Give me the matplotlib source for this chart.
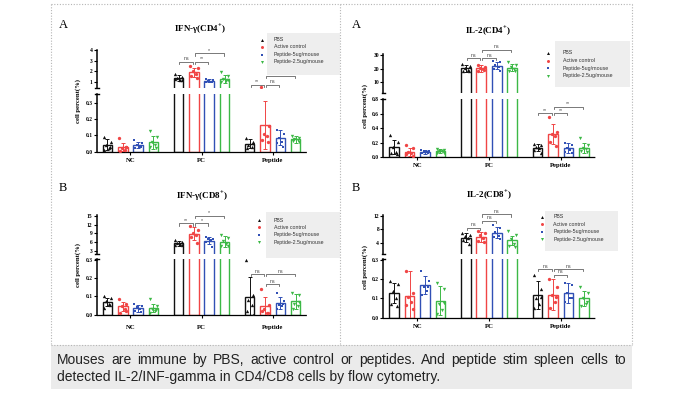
import matplotlib

matplotlib.use("Agg")

import matplotlib.pyplot as plt
from matplotlib.lines import Line2D
from matplotlib.patches import Rectangle

W, H = 675, 395

plt.rcParams["mathtext.fontset"] = "custom"
plt.rcParams["mathtext.rm"] = "Liberation Serif:bold"
plt.rcParams["mathtext.bf"] = "Liberation Serif:bold"

SERIF = "Liberation Serif"
SANS = "Liberation Sans"

GROUPS = ["NC", "PC", "Peptide"]
SERIES = ["PBS", "Active control", "Peptide-5ug/mouse", "Peptide-2.5ug/mouse"]
COLORS = ["#111111", "#f04545", "#3150b5", "#3cb846"]
MARKERS = ["^", "o", "s", "v"]
MARKER_SIZES = [2.4, 2.4, 1.8, 2.4]

# ---- IFN-gamma (CD4+) : [group][series]
ifn_cd4_mean = [[0.041, 0.030, 0.040, 0.057], [1.37, 1.90, 1.12, 1.28], [0.047, 0.163, 0.086, 0.075]]
ifn_cd4_sd = [[0.034, 0.025, 0.020, 0.039], [0.25, 0.45, 0.15, 0.40], [0.028, 0.145, 0.045, 0.022]]
ifn_cd4_pts = [
    [[0.09, 0.06, 0.04, 0.02, 0.01, 0.03], [0.085, 0.03, 0.02, 0.01, 0.005, 0.03],
     [0.07, 0.05, 0.04, 0.03, 0.02, 0.03], [0.125, 0.09, 0.06, 0.04, 0.03, 0.02]],
    [[1.75, 1.5, 1.35, 1.2, 1.3, 1.15], [2.5, 2.3, 2.0, 1.8, 1.6, 1.4],
     [1.3, 1.2, 1.1, 1.05, 1.0, 1.05], [1.9, 1.6, 1.3, 1.1, 1.0, 1.2]],
    [[0.08, 0.06, 0.04, 0.03, 0.02, 0.05], [0.5, 0.157, 0.11, 0.096, 0.07, 0.06],
     [0.13, 0.11, 0.085, 0.06, 0.05, 0.03], [0.095, 0.085, 0.075, 0.07, 0.065, 0.06]],
]

# ---- IL-2 (CD4+)
il2_cd4_mean = [[0.143, 0.074, 0.074, 0.083], [20.2, 20.2, 22.2, 20.7], [0.13, 0.315, 0.12, 0.13]]
il2_cd4_sd = [[0.10, 0.055, 0.025, 0.025], [2.5, 2.3, 2.8, 2.5], [0.05, 0.14, 0.07, 0.07]]
il2_cd4_pts = [
    [[0.3, 0.21, 0.14, 0.07, 0.05, 0.04], [0.16, 0.12, 0.07, 0.05, 0.04, 0.01],
     [0.1, 0.09, 0.08, 0.07, 0.06, 0.05], [0.11, 0.1, 0.09, 0.08, 0.06, 0.06]],
    [[23.5, 22, 20.5, 19, 18, 18.5], [22.5, 21.5, 20.5, 19.5, 18.5, 19],
     [25.5, 24.5, 23, 21.5, 20, 18.5], [25, 22.5, 21, 19.5, 18, 18.5]],
    [[0.18, 0.16, 0.14, 0.12, 0.1, 0.06], [0.55, 0.35, 0.32, 0.29, 0.21, 0.15],
     [0.19, 0.17, 0.13, 0.1, 0.07, 0.06], [0.27, 0.16, 0.13, 0.11, 0.08, 0.07]],
]

# ---- IFN-gamma (CD8+)
ifn_cd8_mean = [[0.069, 0.045, 0.036, 0.036], [5.6, 8.8, 6.5, 6.2], [0.096, 0.045, 0.064, 0.073]]
ifn_cd8_sd = [[0.02, 0.025, 0.019, 0.024], [0.75, 2.2, 1.15, 1.9], [0.108, 0.05, 0.031, 0.04]]
ifn_cd8_pts = [
    [[0.1, 0.09, 0.075, 0.06, 0.035, 0.055], [0.085, 0.06, 0.045, 0.03, 0.01, 0.02],
     [0.06, 0.045, 0.04, 0.03, 0.02, 0.015], [0.085, 0.045, 0.03, 0.02, 0.01, 0.025]],
    [[6.7, 6.0, 5.7, 5.4, 5.2, 5.0], [11.5, 10.2, 9.2, 8.6, 7.6, 5.7],
     [7.6, 7.2, 7.0, 6.6, 6.0, 4.5], [8.3, 7.5, 6.5, 5.5, 4.8, 4.6]],
    [[0.3, 0.11, 0.08, 0.055, 0.02, 0.0], [0.14, 0.055, 0.03, 0.01, 0.02, 0.01],
     [0.12, 0.075, 0.055, 0.045, 0.03, 0.06], [0.12, 0.11, 0.06, 0.045, 0.03, 0.07]],
]

# ---- IL-2 (CD8+)
il2_cd8_mean = [[0.129, 0.115, 0.168, 0.089], [5.5, 5.8, 7.0, 4.7], [0.117, 0.12, 0.127, 0.10]]
il2_cd8_sd = [[0.051, 0.125, 0.046, 0.074], [1.3, 1.5, 1.7, 1.3], [0.073, 0.08, 0.053, 0.04]]
il2_cd8_pts = [
    [[0.19, 0.175, 0.14, 0.1, 0.07, 0.06], [0.24, 0.13, 0.11, 0.08, 0.065, 0.045],
     [0.24, 0.19, 0.16, 0.14, 0.12, 0.16], [0.18, 0.15, 0.07, 0.04, 0.02, 0.075]],
    [[7.0, 6.4, 5.9, 5.3, 4.8, 3.6], [7.4, 7.0, 6.3, 5.3, 4.6, 4.2],
     [9.4, 8.5, 7.2, 6.0, 5.7, 5.2], [7.6, 6.2, 5.0, 3.6, 3.0, 2.8]],
    [[0.22, 0.15, 0.1, 0.07, 0.05, 0.11], [0.2, 0.16, 0.12, 0.08, 0.05, 0.11],
     [0.18, 0.17, 0.13, 0.1, 0.08, 0.1], [0.16, 0.13, 0.1, 0.07, 0.06, 0.08]],
]

# significance brackets: (segment, bar_i, bar_j, y value, label)
ifn_cd4_sig = [("up", 4, 5, 2.92, "ns"), ("up", 5, 6, 2.92, "**"), ("up", 5, 7, 3.69, "*"),
               ("up", 8, 9, 0.75, "**"), ("up", 9, 10, 0.75, "ns"), ("up", 9, 11, 1.59, "")]
il2_cd4_sig = [("up", 4, 5, 27.6, "ns"), ("up", 5, 6, 27.6, "ns"), ("up", 5, 7, 33.7, "ns"),
               ("low", 8, 9, 0.607, "**"), ("low", 9, 10, 0.607, "**"), ("low", 9, 11, 0.70, "**")]
ifn_cd8_sig = [("up", 4, 5, 12.4, "**"), ("up", 5, 6, 12.4, "*"), ("up", 5, 7, 15.0, "*"),
               ("low", 8, 9, 0.222, "ns"), ("low", 9, 11, 0.222, "ns"), ("low", 9, 10, 0.167, "ns")]
il2_cd8_sig = [("up", 4, 5, 8.44, "ns"), ("up", 5, 6, 10.5, "ns"), ("up", 5, 7, 12.4, "ns"),
               ("low", 8, 9, 0.252, "ns"), ("low", 9, 11, 0.252, "ns"), ("low", 9, 10, 0.223, "ns")]

CAPTION = ["Mouses are immune by PBS, active control or peptides. And peptide stim spleen cells to",
           "detected IL-2/INF-gamma in CD4/CD8 cells by flow cytometry."]

GROUP_STEP = 4.64
JITTER = [-0.24, 0.24, -0.08, 0.12, -0.2, 0.2]

PANELS = [
    dict(letter="A", title=r"IFN-γ(CD4$^{+}$)", data=(ifn_cd4_mean, ifn_cd4_sd, ifn_cd4_pts, ifn_cd4_sig),
         x=(96.7, 306.7), up=(49.5, 88.0), low=(94.3, 152.2), up_lim=(0.44, 4.06), low_lim=(-0.004, 0.351),
         up_ticks=[1, 2, 3, 4], low_ticks=["0.0", "0.1", "0.2", "0.3"], pad=2.0,
         letter_xy=(63, 25), title_xy=(200, 29), ylab_x=78,
         leg_mx=262, leg_tx=274, leg_rows=[39.5, 47, 54.5, 62], leg_box=(267, 33, 340, 75)),
    dict(letter="A", title=r"IL-2(CD4$^{+}$)", data=(il2_cd4_mean, il2_cd4_sd, il2_cd4_pts, il2_cd4_sig),
         x=(383.3, 595.0), up=(54.3, 93.3), low=(98.6, 157.4), up_lim=(1.95, 30.5), low_lim=(-0.005, 0.81),
         up_ticks=[10, 20, 30], low_ticks=["0.0", "0.2", "0.4", "0.6", "0.8"], pad=2.0,
         letter_xy=(356.7, 25), title_xy=(488, 31.7), ylab_x=365,
         leg_mx=547.7, leg_tx=562.7, leg_rows=[52.7, 60.7, 68.3, 76], leg_box=(555, 40.7, 630, 86.7)),
    dict(letter="B", title=r"IFN-γ(CD8$^{+}$)", data=(ifn_cd8_mean, ifn_cd8_sd, ifn_cd8_pts, ifn_cd8_sig),
         x=(96.7, 306.7), up=(215.1, 254.3), low=(259.3, 315.4), up_lim=(1.87, 15.2), low_lim=(-0.004, 0.303),
         up_ticks=[3, 6, 9, 12, 15], low_ticks=["0.0", "0.1", "0.2", "0.3"], pad=4.6,
         letter_xy=(63, 187.7), title_xy=(201.7, 195.7), ylab_x=78,
         leg_mx=259.3, leg_tx=274, leg_rows=[220, 227.5, 235, 242], leg_box=(265.7, 211.7, 340, 258.3)),
    dict(letter="B", title=r"IL-2(CD8$^{+}$)", data=(il2_cd8_mean, il2_cd8_sd, il2_cd8_pts, il2_cd8_sig),
         x=(383.3, 595.0), up=(215.1, 254.3), low=(259.3, 318.3), up_lim=(0.54, 12.2), low_lim=(-0.003, 0.303),
         up_ticks=[4, 8, 12], low_ticks=["0.0", "0.1", "0.2", "0.3"], pad=2.2,
         letter_xy=(355.7, 187.7), title_xy=(489, 195.7), ylab_x=365,
         leg_mx=541.7, leg_tx=553.3, leg_rows=[216.7, 224, 231.7, 239], leg_box=(545, 211, 618.3, 251)),
]


def fig_rect(left, top, right, bottom):
    return [left / W, 1 - bottom / H, (right - left) / W, (bottom - top) / H]


def fxy(x, y):
    return x / W, 1 - y / H


def fig_line(fig, xs, ys, **kw):
    fig.add_artist(Line2D([x / W for x in xs], [1 - y / H for y in ys], transform=fig.transFigure, **kw))


def bar_x(idx):
    return (idx // 4) * GROUP_STEP + (idx % 4) - 1.5


def draw_bars(ax, mean, sd, pts, ylim):
    lo, hi = ylim
    for g in range(len(GROUPS)):
        for s in range(len(SERIES)):
            x = bar_x(g * 4 + s)
            ax.bar(x, mean[g][s], width=0.62, facecolor="white", edgecolor=COLORS[s], linewidth=1.0, zorder=2)
            ax.errorbar(x, mean[g][s], yerr=sd[g][s], color=COLORS[s], lw=0.7, capsize=1.4,
                        capthick=0.7, zorder=3)
            # only the points that belong to this segment of the broken axis
            shown = [(x + j, v) for j, v in zip(JITTER, pts[g][s]) if lo <= v <= hi]
            if shown:
                ax.plot([p[0] for p in shown], [p[1] for p in shown], MARKERS[s], color=COLORS[s],
                        ms=MARKER_SIZES[s], mew=0, zorder=4)


def draw_bracket(fig, ax, i, j, y, label):
    xa = bar_x(i) + 0.06
    xb = bar_x(j) - 0.06
    (pa, py), (pb, _) = ax.transData.transform([(xa, y), (xb, y)])
    # display coords -> top-origin pixels
    ty = H - py
    fig_line(fig, [pa, pa, pb, pb], [ty + 2.2, ty, ty, ty + 2.2], color="#555555", lw=0.55)
    if label:
        fig.text((pa + pb) / 2 / W, 1 - (ty - 0.6) / H, label, ha="center", va="bottom",
                 fontsize=3.8, color="#444444", family=SANS)


def draw_panel(fig, cfg):
    mean, sd, pts, sig = cfg["data"]
    x0, x1 = cfg["x"]
    ax_up = fig.add_axes(fig_rect(x0, cfg["up"][0], x1, cfg["up"][1]))
    ax_lo = fig.add_axes(fig_rect(x0, cfg["low"][0], x1, cfg["low"][1]))
    for ax, lim in ((ax_up, cfg["up_lim"]), (ax_lo, cfg["low_lim"])):
        ax.set_xlim(-2.2, 11.5)
        ax.patch.set_alpha(0)
        ax.spines["top"].set_visible(False)
        ax.spines["right"].set_visible(False)
        ax.spines["left"].set_linewidth(1.1)
        ax.tick_params(axis="y", length=2, width=0.8, pad=1)
        draw_bars(ax, mean, sd, pts, lim)
        ax.set_ylim(*lim)

    ax_up.spines["bottom"].set_visible(False)
    ax_up.set_xticks([])
    ax_up.set_yticks(cfg["up_ticks"], labels=[str(t) for t in cfg["up_ticks"]],
                     fontfamily=SERIF, fontweight="bold", fontsize=4)

    ax_lo.set_yticks([float(t) for t in cfg["low_ticks"]], labels=cfg["low_ticks"],
                     fontfamily=SERIF, fontweight="bold", fontsize=4)
    ax_lo.spines["bottom"].set_linestyle((0, (1, 1)))
    ax_lo.spines["bottom"].set_linewidth(0.9)
    ax_lo.set_xticks([g * GROUP_STEP for g in range(len(GROUPS))], labels=GROUPS,
                     fontfamily=SERIF, fontweight="bold", fontsize=4.8)
    ax_lo.tick_params(axis="x", length=2, width=0.8, pad=cfg["pad"])

    # break caps on the y axis
    fig_line(fig, [x0 - 1.8, x0 + 1.8], [cfg["up"][1], cfg["up"][1]], color="black", lw=1.0)
    fig_line(fig, [x0 - 1.8, x0 + 1.8], [cfg["low"][0], cfg["low"][0]], color="black", lw=1.0)

    for seg, i, j, y, label in sig:
        draw_bracket(fig, ax_up if seg == "up" else ax_lo, i, j, y, label)

    # texts
    fig.text(*fxy(*cfg["letter_xy"]), cfg["letter"], ha="center", va="center", fontsize=9, family=SERIF)
    fig.text(*fxy(*cfg["title_xy"]), cfg["title"], ha="center", va="center", fontsize=6.5,
             family=SERIF, fontweight="bold")
    yc = (cfg["up"][0] + cfg["low"][1]) / 2
    fig.text(*fxy(cfg["ylab_x"], yc), "cell percent(%)", rotation=90, ha="center", va="center",
             fontsize=4.8, family=SERIF, fontweight="bold")

    # legend on a grey box
    l, t, r, b = cfg["leg_box"]
    fig.add_artist(Rectangle(fxy(l, b), (r - l) / W, (b - t) / H, transform=fig.transFigure,
                             facecolor="#eeeeee", edgecolor="none", zorder=0))
    for s, name in enumerate(SERIES):
        ry = cfg["leg_rows"][s]
        fig.add_artist(Line2D([cfg["leg_mx"] / W], [1 - ry / H], marker=MARKERS[s], color=COLORS[s],
                              ms=MARKER_SIZES[s] * 0.9, mew=0, linestyle="none", transform=fig.transFigure))
        fig.text(*fxy(cfg["leg_tx"], ry), name, ha="left", va="center", fontsize=3.8, family=SANS,
                 color="#333333")


def draw_frame(fig):
    kw = dict(color="#b5b5b5", lw=0.8, linestyle=(0, (1, 1.5)))
    fig_line(fig, [50.5, 632], [4, 4], **kw)
    fig_line(fig, [50.5, 50.5], [4, 345], **kw)
    fig_line(fig, [632, 632], [4, 345], **kw)
    fig_line(fig, [340, 340], [4, 345], **kw)
    fig.add_artist(Rectangle(fxy(50.7, 389), (632 - 50.7) / W, (389 - 345) / H, transform=fig.transFigure,
                             facecolor="#ebebeb", edgecolor="none", zorder=0))
    fig_line(fig, [50.5, 632], [345, 345], **kw)


def draw_caption(fig):
    renderer = fig.canvas.get_renderer()
    left, right = 56.7, 626.0
    words = CAPTION[0].split()
    texts = [fig.text(0, 0, w, fontsize=10, family=SANS, color="#222222", va="center") for w in words]
    widths = [t.get_window_extent(renderer).width for t in texts]
    gap = (right - left - sum(widths)) / (len(words) - 1)
    x = left
    for t, w in zip(texts, widths):
        t.set_position(fxy(x, 360))
        x += w + gap
    fig.text(*fxy(left, 377), CAPTION[1], fontsize=10, family=SANS, color="#222222", va="center")


def main():
    fig = plt.figure(figsize=(W / 100, H / 100), dpi=100)
    fig.patch.set_facecolor("white")
    draw_frame(fig)
    for cfg in PANELS:
        draw_panel(fig, cfg)
    draw_caption(fig)
    fig.savefig("out.png", dpi=100)
    plt.close(fig)


if __name__ == "__main__":
    main()
